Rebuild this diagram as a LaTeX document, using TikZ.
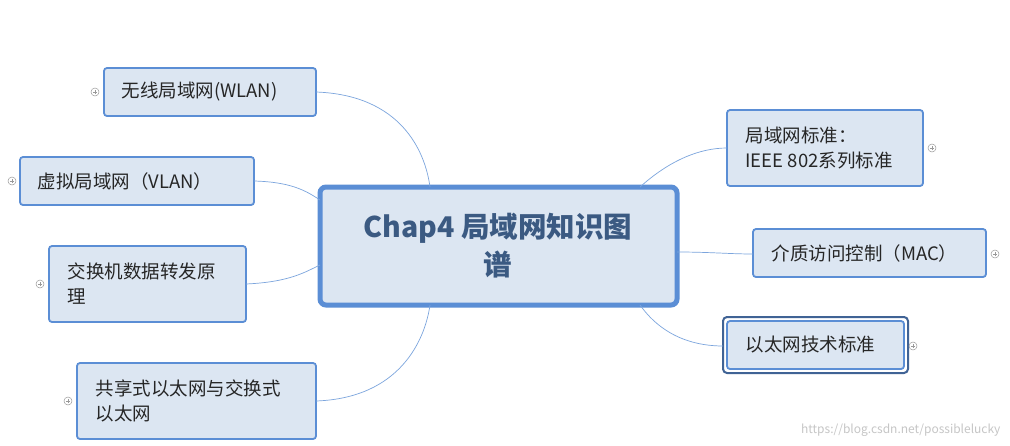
\documentclass[tikz,border=0pt]{standalone}
\usepackage{fontspec}
\setmainfont{Noto Sans CJK SC}
\begin{document}
\begin{tikzpicture}[x=1pt,y=-1pt,
  box/.style={draw=bord,line width=1.8pt,fill=boxfill,rounded corners=3pt,anchor=north west,inner sep=0pt},
  lbl/.style={font=\fontsize{18.5}{25}\selectfont,text=black!85,align=left,anchor=west},
  conn/.style={draw=bord!80,line width=0.7pt},
  plus/.style={circle,draw=gray!80,line width=0.5pt,minimum size=8pt,inner sep=0pt,path picture={\draw[gray!80,line width=0.5pt] ([xshift=-2pt]path picture bounding box.center)--([xshift=2pt]path picture bounding box.center) ([yshift=-2pt]path picture bounding box.center)--([yshift=2pt]path picture bounding box.center);}}]
\definecolor{bord}{HTML}{5B8ED5}
\definecolor{boxfill}{HTML}{DCE6F2}
\definecolor{ctext}{HTML}{3B5A82}
\useasboundingbox (0,0) rectangle (1010,445);
\fill[white] (0,0) rectangle (1010,445);
% center
\draw[draw=bord,line width=5pt,fill=boxfill,rounded corners=6pt] (320,187) rectangle (677,305);
\node[font=\bfseries\fontsize{28.5}{38}\selectfont,text=ctext,align=center] (c) at (498,246) {Chap4 局域网知识图\\谱};
\coordinate (ct1) at (430,187);
\coordinate (ct2) at (640,187);
\coordinate (cb1) at (430,305);
\coordinate (cb2) at (640,305);
\coordinate (cl1) at (320,200);
\coordinate (cl2) at (320,265);
\coordinate (cr) at (677,252);
% left nodes
\draw[box] (104,68) rectangle (316,116);
\node[lbl] (n1) at (118,92) {无线局域网(WLAN)};
\coordinate (e1) at (316,92);
\node[plus] at (95,92) {};
\draw[box] (20,157) rectangle (254,205);
\node[lbl] (n2) at (34,181) {虚拟局域网（VLAN）};
\coordinate (e2) at (254,181);
\node[plus] at (12,181) {};
\draw[box] (49,246) rectangle (246,322);
\node[lbl] (n3) at (64,284) {交换机数据转发原\\理};
\coordinate (e3) at (246,284);
\node[plus] at (40,284) {};
\draw[box] (77,363) rectangle (316,439);
\node[lbl] (n4) at (92,401) {共享式以太网与交换式\\以太网};
\coordinate (e4) at (316,401);
\node[plus] at (68,401) {};
% right nodes
\draw[box] (727,110) rectangle (923,186);
\node[lbl] (n5) at (742,148) {局域网标准：\\IEEE 802系列标准};
\coordinate (e5) at (727,148);
\node[plus] at (932,148) {};
\draw[box] (753,229) rectangle (986,277);
\node[lbl] (n6) at (768,253) {介质访问控制（MAC）};
\coordinate (e6) at (753,254);
\node[plus] at (995,254) {};
\draw[draw=bord!70!black,line width=2pt,rounded corners=4pt] (723,317) rectangle (908,373);
\draw[box] (727,321) rectangle (904,369);
\node[lbl] (n7) at (742,345) {以太网技术标准};
\coordinate (e7) at (723,346);
\node[plus] at (913,346) {};
% connectors
\draw[conn] (e1) .. controls (400,95) and (425,150) .. (ct1);
\draw[conn] (e2) .. controls (290,182) and (305,190) .. (cl1);
\draw[conn] (e3) .. controls (290,282) and (305,272) .. (cl2);
\draw[conn] (e4) .. controls (400,398) and (425,340) .. (cb1);
\draw[conn] (ct2) .. controls (670,160) and (700,148) .. (e5);
\draw[conn] (cr) .. controls (710,252) and (730,254) .. (e6);
\draw[conn] (cb2) .. controls (665,340) and (700,346) .. (e7);
\node[font=\fontsize{12}{14}\selectfont,text=gray!45,anchor=east] (wm) at (1004,430) {https://blog.csdn.net/possiblelucky};
\end{tikzpicture}
\end{document}
